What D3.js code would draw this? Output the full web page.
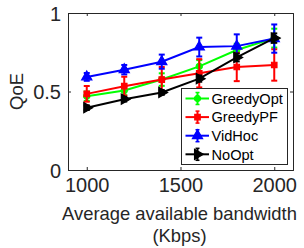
<!DOCTYPE html>
<html><head><meta charset="utf-8">
<script src="https://cdn.jsdelivr.net/npm/d3@7"></script>
<style>body{margin:0;background:#fff}svg{display:block}text{font-family:"Liberation Sans",Arial,sans-serif}</style>
</head><body><svg id="c" width="304" height="248"></svg>
<script>
const bandwidth = [1000, 1200, 1400, 1600, 1800, 2000];
const seriesNames = ["GreedyOpt", "GreedyPF", "VidHoc", "NoOpt"];
const greedyOpt = [0.47, 0.506, 0.576, 0.66, 0.764, 0.84];
const greedyOptErr = [0.03, 0.03, 0.04, 0.04, 0.04, 0.06];
const greedyPF = [0.485, 0.534, 0.576, 0.616, 0.656, 0.669];
const greedyPFErr = [0.05, 0.06, 0.08, 0.09, 0.09, 0.1];
const vidHoc = [0.593, 0.639, 0.69, 0.783, 0.789, 0.837];
const vidHocErr = [0.025, 0.03, 0.045, 0.06, 0.075, 0.09];
const noOpt = [0.397, 0.451, 0.494, 0.582, 0.717, 0.84];
const noOptErr = [0.015, 0.015, 0.015, 0.02, 0.025, 0.03];
const xTicks = [1000, 1500, 2000];
const yTicks = [0, 0.5, 1];

const colors = ["#00ff00", "#ff0000", "#0000ff", "#000000"];
const allVals = [greedyOpt, greedyPF, vidHoc, noOpt];
const allErr = [greedyOptErr, greedyPFErr, vidHocErr, noOptErr];
const symbols = [d3.symbolCircle, d3.symbolSquare, d3.symbolTriangle, d3.symbolTriangle];
const rotations = [0, 0, 0, 90];
const symSizes = [30, 30, 45, 45];

const svg = d3.select("#c");
const L = 68, R = 293, T = 13, B = 170;
const x = d3.scaleLinear().domain([900, 2100]).range([L, R]);
const y = d3.scaleLinear().domain([0, 1]).range([B, T]);

const tl = 3;
const gx = svg.append("g").attr("transform", `translate(0,${B})`)
  .call(d3.axisBottom(x).tickValues(xTicks).tickSize(-tl).tickPadding(8).tickFormat(d3.format("d")));
const gy = svg.append("g").attr("transform", `translate(${L},0)`)
  .call(d3.axisLeft(y).tickValues(yTicks).tickSize(-tl).tickPadding(7).tickFormat(d => d === 0.5 ? "0.5" : d3.format("d")(d)));
const gx2 = svg.append("g").attr("transform", `translate(0,${T})`)
  .call(d3.axisTop(x).tickValues(xTicks).tickSize(-tl).tickFormat(""));
const gy2 = svg.append("g").attr("transform", `translate(${R},0)`)
  .call(d3.axisRight(y).tickValues(yTicks).tickSize(-tl).tickFormat(""));
[gx, gy, gx2, gy2].forEach(g => {
  g.select(".domain").attr("stroke", "#262626").attr("stroke-width", 1);
  g.selectAll(".tick line").attr("stroke", "#262626");
  g.selectAll("text").attr("fill", "#262626").attr("font-size", 20).attr("font-family", "Liberation Sans, Arial, sans-serif");
});
gx.selectAll("text").attr("dy", "0.71em");
gy.selectAll("text").attr("dy", "0.36em");

svg.append("text").attr("x", (L + R) / 2 - 1).attr("y", 220).attr("text-anchor", "middle")
  .attr("font-size", 18.4).attr("fill", "#262626").text("Average available bandwidth");
svg.append("text").attr("x", (L + R) / 2 - 1).attr("y", 242).attr("text-anchor", "middle")
  .attr("font-size", 18.4).attr("fill", "#262626").text("(Kbps)");
svg.append("text").attr("transform", `translate(23,${(T + B) / 2}) rotate(-90)`).attr("text-anchor", "middle")
  .attr("font-size", 18.4).attr("fill", "#262626").text("QoE");

const line = d3.line().x((d, i) => x(bandwidth[i])).y(d => y(d));
const capW = 3;
function drawMarker(g, cx, cy, k) {
  g.append("path").attr("d", d3.symbol().type(symbols[k]).size(symSizes[k])())
    .attr("transform", `translate(${cx},${cy}) rotate(${rotations[k]})`)
    .attr("fill", colors[k]).attr("stroke", colors[k]).attr("stroke-width", 1.2);
}
allVals.forEach((vals, k) => {
  const g = svg.append("g");
  g.append("path").datum(vals).attr("d", line).attr("fill", "none").attr("stroke", colors[k]).attr("stroke-width", 2);
  vals.forEach((v, i) => {
    const cx = x(bandwidth[i]), e = allErr[k][i];
    g.append("line").attr("x1", cx).attr("x2", cx).attr("y1", y(v - e)).attr("y2", y(v + e)).attr("stroke", colors[k]).attr("stroke-width", 2);
    [v - e, v + e].forEach(yy => g.append("line").attr("x1", cx - capW).attr("x2", cx + capW).attr("y1", y(yy)).attr("y2", y(yy)).attr("stroke", colors[k]).attr("stroke-width", 2));
    drawMarker(g, cx, y(v), k);
  });
});

const lg = svg.append("g");
lg.append("rect").attr("x", 181.5).attr("y", 88.5).attr("width", 106).attr("height", 76)
  .attr("fill", "#fff").attr("stroke", "#262626").attr("stroke-width", 1);
seriesNames.forEach((name, k) => {
  const ly = 98.5 + k * 18.6;
  lg.append("line").attr("x1", 185.5).attr("x2", 209).attr("y1", ly).attr("y2", ly).attr("stroke", colors[k]).attr("stroke-width", 2);
  lg.append("line").attr("x1", 197.5).attr("x2", 197.5).attr("y1", ly - 6).attr("y2", ly + 6).attr("stroke", colors[k]).attr("stroke-width", 2);
  [ly - 6, ly + 6].forEach(yy => lg.append("line").attr("x1", 195.5).attr("x2", 199.5).attr("y1", yy).attr("y2", yy).attr("stroke", colors[k]).attr("stroke-width", 1.5));
  drawMarker(lg, 197.5, ly, k);
  lg.append("text").attr("x", 211.5).attr("y", ly).attr("dy", "0.36em").attr("font-size", 14.6).attr("fill", "#000").text(name);
});
</script></body></html>
